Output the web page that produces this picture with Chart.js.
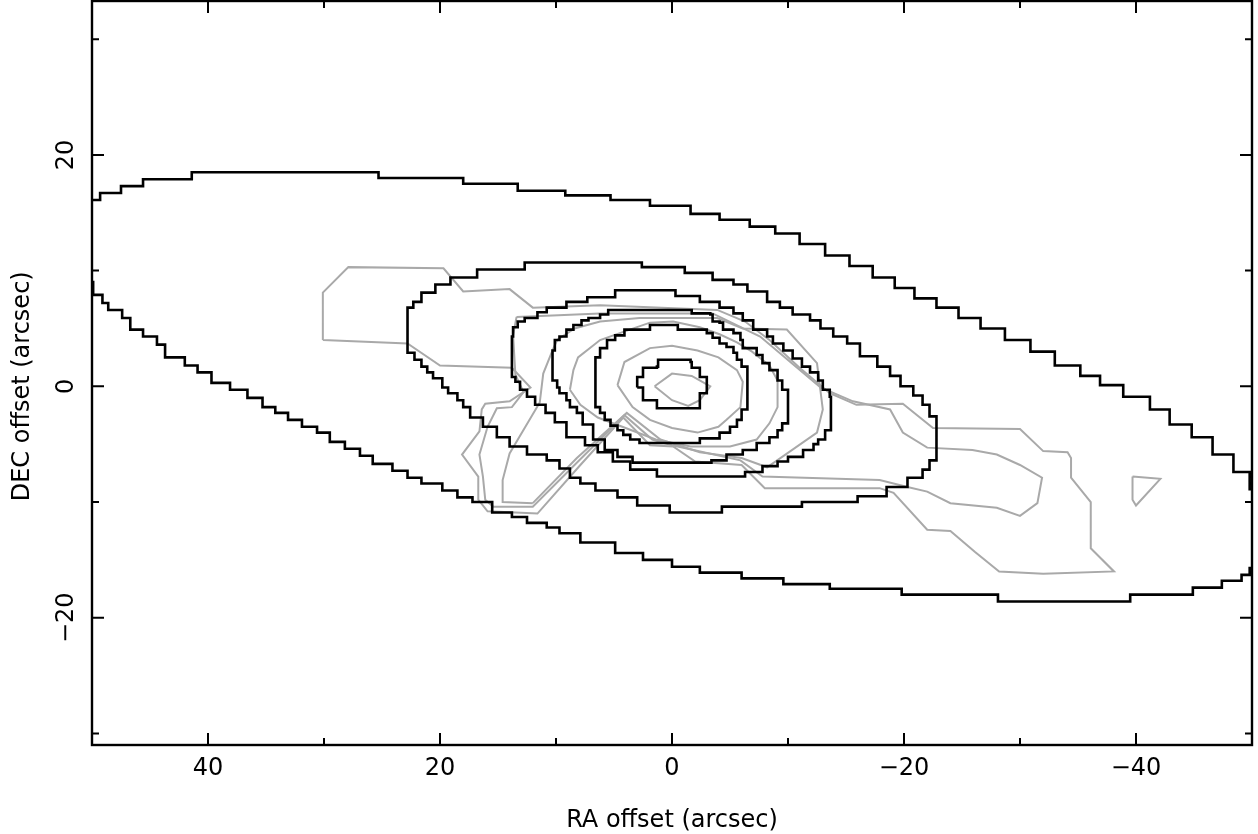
<!DOCTYPE html>
<html>
<head>
<meta charset="utf-8">
<script src="https://cdn.jsdelivr.net/npm/chart.js@4.4.1/dist/chart.umd.min.js"></script>
<style>
  html, body { margin: 0; padding: 0; background: #fff; }
  canvas { display: block; }
</style>
</head>
<body>
<canvas id="carte" width="1258" height="834"></canvas>
<script>
//------ graduations
const xTicks = [40, 20, 0, -20, -40];
const yTicks = [-20, 0, 20];

//------ contours du modele (noirs, en escalier) : [RA, DEC] en arcsec
const modele1 = [[51.0,16.1],[49.3,16.7],[47.5,17.3],[45.6,17.9],[41.4,18.5],[25.3,18.0],[18.0,17.5],[13.3,16.9],[9.2,16.5],[5.3,16.1],[1.9,15.6],[-1.6,14.9],[-4.1,14.4],[-6.7,13.8],[-8.9,13.2],[-11.0,12.3],[-13.2,11.3],[-15.3,10.4],[-17.3,9.4],[-19.2,8.5],[-20.9,7.6],[-22.8,6.8],[-24.7,5.9],[-26.6,5.0],[-28.7,4.0],[-30.9,3.0],[-33.0,1.8],[-35.2,0.9],[-36.9,0.1],[-38.9,-0.9],[-41.2,-2.0],[-42.9,-3.3],[-44.8,-4.4],[-46.6,-5.9],[-48.4,-7.4],[-49.8,-8.9],[-51.1,-8.9],[-51.1,-15.7],[-49.8,-16.3],[-49.1,-16.8],[-47.4,-17.4],[-44.9,-18.0],[-39.5,-18.6],[-28.1,-18.0],[-19.8,-17.5],[-13.6,-17.1],[-9.6,-16.6],[-6.0,-16.1],[-2.4,-15.6],[0.0,-15.0],[2.5,-14.4],[4.9,-13.5],[7.9,-12.7],[9.7,-12.2],[10.8,-11.8],[12.5,-11.3],[13.8,-10.9],[15.5,-10.0],[17.2,-9.6],[18.5,-9.0],[19.8,-8.4],[21.6,-7.9],[22.8,-7.3],[24.1,-6.7],[25.8,-6.0],[26.9,-5.4],[28.2,-4.8],[29.5,-4.0],[30.6,-3.5],[31.9,-2.9],[33.1,-2.3],[34.2,-1.8],[35.3,-1.0],[36.6,-0.3],[38.1,0.3],[39.7,1.2],[40.9,1.8],[42.0,2.5],[43.7,3.6],[44.4,4.3],[45.6,4.9],[46.7,5.9],[47.4,6.6],[48.6,7.2],[49.1,7.9],[49.9,9.0],[51.0,9.0],[51.0,16.1]];

const modele2 = [[22.8,3.7],[22.8,6.8],[22.3,7.3],[21.6,8.1],[20.4,8.8],[19.1,9.4],[16.8,10.1],[12.7,10.7],[2.6,10.3],[-1.1,9.8],[-3.5,9.2],[-5.3,8.8],[-6.5,8.2],[-8.2,7.3],[-9.3,6.8],[-10.4,6.2],[-11.9,5.7],[-12.8,5.0],[-13.9,4.3],[-15.1,3.7],[-16.2,2.6],[-17.7,1.7],[-18.8,0.9],[-19.7,0.0],[-20.8,-0.8],[-21.6,-1.6],[-22.2,-2.6],[-22.8,-3.8],[-22.8,-6.4],[-22.2,-7.2],[-21.6,-7.9],[-20.3,-8.7],[-18.5,-9.5],[-16.0,-10.0],[-11.2,-10.4],[-4.3,-10.9],[0.2,-10.3],[3.0,-9.6],[4.7,-9.0],[6.6,-8.4],[7.9,-7.9],[8.8,-7.1],[9.7,-6.4],[10.8,-5.9],[12.5,-5.2],[14.0,-4.4],[15.1,-3.5],[16.3,-2.7],[17.4,-1.8],[18.0,-1.2],[18.5,-0.6],[19.3,-0.1],[19.8,0.7],[20.6,1.2],[21.1,1.7],[21.6,2.3],[22.2,2.9],[22.8,3.7]];

const modele3 = [[13.8,1.4],[13.8,4.3],[13.7,5.1],[13.3,5.6],[12.7,5.9],[11.6,6.4],[10.8,6.8],[9.1,7.3],[7.3,7.7],[4.9,8.3],[1.3,8.3],[-0.3,7.8],[-2.4,7.3],[-4.1,6.8],[-5.3,6.3],[-6.1,5.7],[-7.0,4.9],[-8.2,4.3],[-8.7,3.7],[-9.6,3.1],[-10.4,2.4],[-11.2,1.7],[-11.9,1.2],[-12.6,0.5],[-13.0,-0.3],[-13.6,-0.9],[-13.7,-3.8],[-13.2,-4.6],[-12.6,-5.0],[-12.2,-5.5],[-11.3,-6.1],[-10.0,-6.5],[-9.1,-6.9],[-7.8,-7.4],[-6.3,-7.8],[0.2,-7.8],[1.3,-7.2],[3.6,-6.5],[5.1,-5.7],[6.4,-5.1],[7.5,-4.4],[9.1,-3.1],[10.1,-2.3],[10.9,-1.6],[11.8,-0.9],[12.5,-0.3],[13.1,0.4],[13.5,0.8],[13.8,1.4]];

const modele4 = [[10.3,0.8],[10.3,3.1],[10.1,4.0],[9.7,4.3],[9.1,4.9],[8.5,5.3],[7.8,5.7],[7.2,5.9],[6.2,6.2],[5.5,6.6],[-1.6,6.6],[-1.7,6.3],[-3.3,6.2],[-3.5,5.6],[-4.1,5.5],[-4.4,4.9],[-5.3,4.6],[-5.9,4.0],[-6.1,3.3],[-7.3,2.7],[-7.8,2.0],[-8.4,1.4],[-9.1,0.5],[-9.5,-0.3],[-10.0,-0.9],[-10.0,-3.2],[-9.5,-3.8],[-9.1,-4.4],[-8.4,-4.9],[-7.3,-5.5],[-6.1,-5.9],[-4.7,-6.4],[-3.4,-6.6],[1.3,-6.6],[3.4,-6.1],[4.7,-5.5],[5.8,-4.6],[6.8,-3.3],[7.7,-2.3],[8.2,-1.8],[8.8,-1.2],[9.1,-0.6],[9.7,-0.1],[9.9,0.5],[10.3,0.8]];

const modele5 = [[6.6,-0.9],[6.6,2.5],[6.2,3.3],[5.6,4.0],[4.9,4.4],[4.1,4.9],[1.9,5.3],[-0.4,5.3],[-0.5,4.9],[-3.0,4.6],[-3.5,4.2],[-4.1,3.7],[-4.7,3.4],[-5.3,2.9],[-5.6,2.3],[-6.0,1.7],[-6.5,0.8],[-6.5,-2.0],[-6.0,-2.9],[-5.6,-3.5],[-5.0,-4.0],[-4.1,-4.5],[-2.4,-4.9],[1.2,-4.9],[2.8,-4.6],[3.6,-4.2],[4.2,-3.8],[4.7,-3.4],[5.3,-2.9],[5.8,-2.3],[6.2,-1.8],[6.6,-0.9]];

const modele6 = [[3.0,-0.1],[3.0,0.8],[2.5,1.0],[2.5,1.6],[1.3,1.7],[1.2,2.3],[-0.5,2.3],[-1.6,2.1],[-1.7,1.6],[-2.4,1.2],[-2.4,0.8],[-3.0,0.5],[-3.0,-0.6],[-2.4,-1.2],[-2.4,-1.9],[1.3,-1.9],[1.3,-1.2],[2.5,-1.0],[2.5,-0.1],[3.0,-0.1]];

//------ contours observes (gris)
const obsP = [[30.1,4.0],[30.1,8.1],[27.9,10.3],[19.7,10.2],[18.0,8.2],[14.0,8.4],[12.0,6.8],[6.2,7.0],[-3.9,6.6],[-6.3,5.6],[-8.4,4.0],[-11.0,1.6],[-13.6,-0.6],[-15.9,-1.6],[-19.9,-1.5],[-22.5,-3.6],[-30.0,-3.7],[-32.0,-5.6],[-34.1,-5.7],[-34.4,-6.2],[-34.4,-7.9],[-36.1,-10.0],[-36.1,-14.0],[-38.1,-16.0],[-32.0,-16.2],[-28.2,-16.0],[-26.1,-14.3],[-24.0,-12.5],[-22.0,-12.4],[-19.1,-9.2],[-17.9,-8.8],[-8.0,-8.8],[-6.0,-6.8],[-2.0,-6.5],[-0.1,-5.2],[1.9,-5.1],[4.2,-2.7],[7.9,-6.8],[11.6,-11.0],[15.9,-10.8],[16.7,-9.8],[16.7,-7.8],[18.1,-5.9],[16.6,-3.9],[16.4,-2.0],[16.1,-1.5],[14.0,-1.3],[12.2,-0.1],[13.8,1.6],[20.0,1.8],[22.8,3.7],[30.1,4.0]];

const obsQ = [[13.4,6.0],[6.2,6.3],[-3.5,6.3],[-7.6,4.3],[-10.2,2.1],[-12.8,-0.1],[-15.6,-1.3],[-18.8,-2.0],[-19.9,-4.0],[-22.0,-5.3],[-25.9,-5.5],[-28.0,-5.9],[-30.0,-6.8],[-31.9,-7.9],[-31.5,-10.1],[-30.0,-11.2],[-28.0,-10.5],[-24.0,-10.1],[-22.0,-9.1],[-20.3,-8.7],[-17.9,-8.1],[-7.8,-7.8],[-5.9,-6.4],[0.0,-5.1],[1.7,-4.6],[4.1,-2.5],[8.1,-6.5],[12.0,-10.4],[15.4,-10.4],[16.1,-9.8],[16.3,-7.8],[16.6,-5.9],[15.9,-3.5],[15.1,-1.9],[13.8,-1.8],[12.8,-0.5],[13.5,1.0],[13.7,4.4],[13.4,6.0]];

const obsR = [[12.0,-10.1],[14.6,-10.0],[14.6,-8.1],[14.0,-5.8],[11.4,-1.4],[11.1,1.1],[10.3,3.1],[9.9,4.0],[8.4,5.0],[6.2,5.6],[2.8,5.9],[-3.9,5.9],[-6.1,5.0],[-9.9,4.9],[-12.5,2.0],[-13.0,-2.0],[-12.5,-4.0],[-8.2,-7.0],[-6.0,-6.2],[-2.4,-5.7],[1.0,-4.6],[3.9,-2.3],[8.2,-6.2],[12.0,-10.1]];

const obs3 = [[8.8,-0.3],[8.5,1.4],[8.1,2.5],[6.2,4.0],[4.2,4.7],[1.9,5.5],[-0.1,5.6],[-2.4,5.1],[-4.1,4.5],[-5.6,3.8],[-6.9,3.0],[-8.4,1.8],[-9.1,0.5],[-9.1,-1.8],[-8.4,-3.2],[-7.3,-4.6],[-5.0,-5.2],[-1.6,-5.2],[1.4,-4.6],[4.0,-3.6],[6.4,-2.7],[7.9,-1.6],[8.8,-0.3]];

const obs2 = [[4.7,0.1],[4.1,2.1],[1.9,3.3],[0.0,3.5],[-2.2,3.1],[-4.0,2.5],[-5.6,1.4],[-6.1,0.4],[-5.9,-1.8],[-4.7,-2.9],[-4.0,-3.5],[-2.2,-4.0],[0.0,-3.6],[1.9,-2.9],[3.4,-1.8],[4.7,0.1]];

const obs1 = [[1.5,0.0],[0.0,1.1],[-1.7,0.9],[-3.3,0.0],[-2.4,-1.2],[-1.4,-1.7],[0.0,-1.2],[1.5,0.0]];

const obsTriangle = [[-39.7,-7.8],[-42.1,-8.0],[-40.0,-10.3],[-39.7,-9.8],[-39.7,-7.8]];


//------ construction des datasets
const versPoints = tab => tab.map(p => ({ x: p[0], y: p[1] }));

const noirs = [modele1, modele2, modele3, modele4, modele5, modele6].map(c => ({
  data: versPoints(c),
  showLine: true,
  stepped: true,
  borderColor: '#000',
  borderWidth: 2.6,
  pointRadius: 0,
  fill: false
}));

const gris = [obsP, obsQ, obsR, obs3, obs2, obs1, obsTriangle].map(c => ({
  data: versPoints(c),
  showLine: true,
  borderColor: '#a9a9a9',
  borderWidth: 2,
  pointRadius: 0,
  fill: false
}));

const moins = v => (v < 0 ? '\u2212' + Math.abs(v) : String(v));

// cadre, graduations internes et textes des axes
const cadre = {
  id: 'cadre',
  afterDraw(chart) {
    const { ctx, chartArea: a, scales: { x, y } } = chart;
    ctx.save();
    ctx.strokeStyle = '#000';
    ctx.lineWidth = 2;
    ctx.beginPath();
    for (let v = -40; v <= 40; v += 10) {
      const px = x.getPixelForValue(v);
      const l = v % 20 === 0 ? 12 : 7;
      ctx.moveTo(px, a.bottom); ctx.lineTo(px, a.bottom - l);
      ctx.moveTo(px, a.top); ctx.lineTo(px, a.top + l);
    }
    for (let v = -30; v <= 30; v += 10) {
      const py = y.getPixelForValue(v);
      const l = v % 20 === 0 ? 12 : 7;
      ctx.moveTo(a.left, py); ctx.lineTo(a.left + l, py);
      ctx.moveTo(a.right, py); ctx.lineTo(a.right - l, py);
    }
    ctx.stroke();
    ctx.lineWidth = 2.4;
    ctx.strokeRect(a.left, a.top, a.right - a.left, a.bottom - a.top);

    ctx.fillStyle = '#000';
    ctx.font = '24px "DejaVu Sans"';
    ctx.textAlign = 'center';
    ctx.textBaseline = 'middle';
    xTicks.forEach(v => ctx.fillText(moins(v), x.getPixelForValue(v), a.bottom + 24));
    yTicks.forEach(v => {
      ctx.save();
      ctx.translate(a.left - 25, y.getPixelForValue(v));
      ctx.rotate(-Math.PI / 2);
      ctx.fillText(moins(v), 0, 0);
      ctx.restore();
    });
    ctx.fillText('RA offset (arcsec)', x.getPixelForValue(0), 821);
    ctx.save();
    ctx.translate(23, y.getPixelForValue(0));
    ctx.rotate(-Math.PI / 2);
    ctx.fillText('DEC offset (arcsec)', 0, 0);
    ctx.restore();
    ctx.restore();
  }
};

new Chart(document.getElementById('carte'), {
  type: 'scatter',
  data: { datasets: [...noirs, ...gris] },
  options: {
    responsive: false,
    animation: false,
    devicePixelRatio: 1,
    layout: { padding: { left: 92, right: 6, top: 1, bottom: 89 } },
    scales: {
      x: { type: 'linear', reverse: true, min: -50, max: 50, display: false },
      y: { type: 'linear', min: -31, max: 33.3, display: false }
    },
    plugins: { legend: { display: false }, tooltip: { enabled: false } }
  },
  plugins: [cadre]
});
</script>
</body>
</html>
